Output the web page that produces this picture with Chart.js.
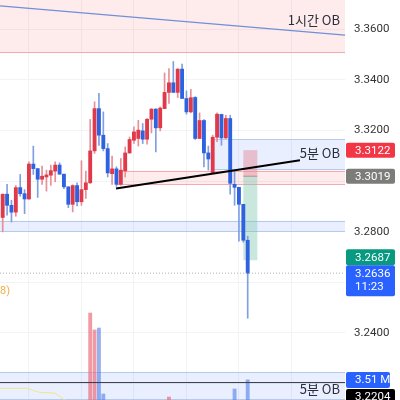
<!DOCTYPE html>
<html>
<head>
<meta charset="utf-8">
<script src="https://cdn.jsdelivr.net/npm/chart.js@4"></script>
<style>
  html, body { margin: 0; padding: 0; background: #fff; }
  canvas { display: block; filter: blur(0.3px); }
</style>
</head>
<body>
<canvas id="chart" width="400" height="400"></canvas>
<script>
// ===== candles =====
const opens = [3.2856,3.2948,3.2904,3.2877,3.2974,3.2950,3.2929,3.3067,3.3049,3.3007,3.3016,3.3023,3.3039,3.3063,3.3027,3.2977,3.2908,3.2982,3.2918,3.2966,3.2993,3.3119,3.3286,3.3181,3.3128,3.3029,3.3048,3.2987,3.3040,3.3111,3.3161,3.3168,3.3198,3.3165,3.3244,3.3284,3.3210,3.3286,3.3350,3.3388,3.3350,3.3442,3.3326,3.3273,3.3330,3.3168,3.3239,3.3111,3.3032,3.3173,3.3263,3.3170,3.3247,3.2987,3.2975,3.2908,3.2766];
const closes = [3.2948,3.2904,3.2877,3.2974,3.2950,3.2929,3.3067,3.3049,3.3007,3.3019,3.3024,3.3041,3.3063,3.3027,3.2977,3.2908,3.2982,3.2918,3.2966,3.2993,3.3119,3.3286,3.3181,3.3128,3.3032,3.3048,3.2987,3.3043,3.3111,3.3164,3.3194,3.3201,3.3165,3.3244,3.3284,3.3210,3.3288,3.3350,3.3388,3.3350,3.3442,3.3326,3.3273,3.3329,3.3168,3.3239,3.3111,3.3087,3.3173,3.3264,3.3170,3.3247,3.2991,3.2975,3.2908,3.2766,3.2636];
const highs = [3.2948,3.2987,3.2924,3.2982,3.3026,3.2966,3.3076,3.3138,3.3049,3.3059,3.3043,3.3063,3.3076,3.3072,3.3027,3.2977,3.2985,3.2993,3.3080,3.3039,3.3243,3.3313,3.3346,3.3273,3.3148,3.3098,3.3056,3.3089,3.3135,3.3174,3.3214,3.3240,3.3227,3.3247,3.3286,3.3286,3.3293,3.3427,3.3444,3.3472,3.3444,3.3462,3.3356,3.3362,3.3333,3.3269,3.3243,3.3138,3.3181,3.3269,3.3264,3.3260,3.3260,3.3040,3.2975,3.2908,3.2782];
const lows = [3.2799,3.2865,3.2838,3.2861,3.2940,3.2871,3.2927,3.3026,3.2935,3.2987,3.2960,3.2983,3.2997,3.3027,3.2970,3.2895,3.2878,3.2902,3.2904,3.2931,3.2990,3.3109,3.3141,3.3119,3.3016,3.2987,3.2979,3.2983,3.3016,3.3109,3.3148,3.3138,3.3148,3.3146,3.3190,3.3115,3.3198,3.3286,3.3306,3.3350,3.3330,3.3326,3.3264,3.3269,3.3164,3.3168,3.3056,3.3043,3.3029,3.3155,3.3141,3.3168,3.2948,3.2904,3.2762,3.2758,3.2458];

// ===== volume (millions), only the bars that reach into view =====
const volumeIndex = [20, 21, 22, 23, 38, 53, 56];
const volumeValues = [9.08, 7.67, 7.83, 2.33, 2.08, 2.75, 3.51];
const volumeUp = [true, true, false, false, true, false, false];

// ===== axis =====
const priceGrid = [3.36, 3.34, 3.32, 3.30, 3.28, 3.26, 3.24, 3.22];
const priceLabels = [3.36, 3.34, 3.32, 3.28, 3.24];

// ===== drawn lines =====
const fallLineX = [-0.62, 78.24];
const fallLineY = [3.3692, 3.3576];
const trendX = [25.9, 67.95];
const trendY = [3.2970, 3.3082];
const lastPriceX = [-0.62, 78.24];
const lastPriceY = [3.2636, 3.2636];
const supportX = [-0.62, 78.24];
const supportY = [3.2204, 3.2204];
const maX = [-0.62, 5.5, 8.5, 12, 14.2];
const maY = [3.2181, 3.2181, 3.2165, 3.2162, 3.2135];

// ===== zones =====
const zoneNames = ["1h", "5mBlue", "5mRed", "lowBlue", "bottomBlue"];
const zoneStart = [-0.62, 48, 26, -0.62, -0.62];
const zoneTop = [3.3715, 3.3165, 3.3041, 3.2843, 3.2246];
const zoneBottom = [3.3505, 3.3043, 3.2985, 3.2799, 3.2135];

// ===== position tool =====
const positionStart = 55;
const positionEnd = 58.2;
const stopPrice = 3.3122;
const entryPrice = 3.3019;
const targetPrice = 3.2687;

const RED = "#e0394a";
const BLUE = "#2f62e0";
const FONT = "Roboto, 'Noto Sans', sans-serif";
const KR_FONT = "'Noto Sans CJK KR', sans-serif";

function toPoints(xs, ys) {
  return xs.map((x, i) => ({ x, y: ys[i] }));
}

const candleIndex = opens.map((_, i) => i);
const candleColors = opens.map((o, i) => (closes[i] >= o ? RED : BLUE));
const wickColors = opens.map((o, i) => (closes[i] >= o ? "#e98e97" : "#7f9fe3"));

// zones and the position box go under the candles
const zonePlugin = {
  id: "zones",
  beforeDatasetsDraw(chart) {
    const { ctx, scales, chartArea } = chart;
    const x = scales.x;
    const y = scales.y;
    ctx.save();
    zoneNames.forEach((name, i) => {
      const red = name === "1h" || name === "5mRed";
      const left = x.getPixelForValue(zoneStart[i]);
      const top = y.getPixelForValue(zoneTop[i]);
      const bottom = y.getPixelForValue(zoneBottom[i]);
      ctx.fillStyle = red ? "rgba(242,54,69,0.1)" : "rgba(41,98,255,0.1)";
      ctx.fillRect(left, top, chartArea.right - left, bottom - top);
      ctx.fillStyle = red ? "#f5aab1" : "#b4cbee";
      ctx.fillRect(left, Math.round(bottom) - 1, chartArea.right - left, 1);
      if (name !== "1h") ctx.fillRect(left, Math.round(top), chartArea.right - left, 1);
    });
    const pl = x.getPixelForValue(positionStart);
    const pr = x.getPixelForValue(positionEnd);
    const stop = y.getPixelForValue(stopPrice);
    const entry = y.getPixelForValue(entryPrice);
    const target = y.getPixelForValue(targetPrice);
    ctx.fillStyle = "rgba(229,130,145,0.45)";
    ctx.fillRect(pl, stop, pr - pl, entry - stop);
    ctx.fillStyle = "rgba(120,195,170,0.4)";
    ctx.fillRect(pl, entry, pr - pl, target - entry);
    ctx.fillStyle = "#9a9a94";
    ctx.fillRect(pl, entry - 0.5, pr - pl, 1);
    ctx.restore();
  }
};

function tag(ctx, left, top, width, height, color, lines) {
  ctx.fillStyle = color;
  ctx.beginPath();
  ctx.roundRect(left, top, width, height, 2);
  ctx.fill();
  ctx.fillStyle = "#fff";
  ctx.font = "11.5px " + FONT;
  ctx.textAlign = "left";
  ctx.textBaseline = "middle";
  lines.forEach((text, i) => ctx.fillText(text, left + 9, top + 8.5 + i * 13.5));
}

// text notes and the price tags go on top of everything
const labelPlugin = {
  id: "labels",
  afterDraw(chart) {
    const { ctx, scales } = chart;
    const y = scales.y;
    ctx.save();
    ctx.fillStyle = "#2a2e39";
    ctx.font = "13px " + KR_FONT;
    ctx.textAlign = "right";
    ctx.textBaseline = "middle";
    ctx.fillText("1시간 OB", 340, 20);
    ctx.fillText("5분 OB", 340, 153);
    ctx.fillText("5분 OB", 340, 389);
    ctx.fillStyle = "#eeb04a";
    ctx.font = "11px " + FONT;
    ctx.textAlign = "left";
    ctx.fillText("8)", 0, 291);

    const stopTop = y.getPixelForValue(stopPrice) - 7.5;
    const entryTop = y.getPixelForValue(entryPrice) - 7.5;
    const lastTop = y.getPixelForValue(lastPriceY[0]) - 8;
    tag(ctx, 346, stopTop, 49, 15, "#f23645", [stopPrice.toFixed(4)]);
    tag(ctx, 346, entryTop, 49, 15, "#7c7c78", [entryPrice.toFixed(4)]);
    tag(ctx, 346, lastTop - 16, 49, 16, "#089981", [targetPrice.toFixed(4)]);
    tag(ctx, 346, lastTop, 49, 31, "#2962ff", [lastPriceY[0].toFixed(4), "11:23"]);
    tag(ctx, 346, 372, 44, 16, "#2962ff", [volumeValues[6].toFixed(2) + " M"]);
    tag(ctx, 346, 389, 49, 16, "#000", [supportY[0].toFixed(4)]);
    ctx.restore();
  }
};

function noPadding(scale) {
  scale.paddingTop = 0;
  scale.paddingBottom = 0;
  scale.paddingLeft = 0;
  scale.paddingRight = 0;
}

new Chart(document.getElementById("chart"), {
  data: {
    datasets: [
      {
        type: "line",
        order: 0,
        data: toPoints(fallLineX, fallLineY),
        borderColor: "#6f8fd8",
        borderWidth: 1.2,
        pointRadius: 0
      },
      {
        type: "line",
        order: 0,
        data: toPoints(trendX, trendY),
        borderColor: "#000",
        borderWidth: 2,
        pointRadius: 0
      },
      {
        type: "line",
        order: 0,
        data: toPoints(lastPriceX, lastPriceY),
        borderColor: "#a9adb5",
        borderWidth: 1,
        borderDash: [1, 2],
        pointRadius: 0
      },
      {
        type: "line",
        order: 0,
        data: toPoints(supportX, supportY),
        borderColor: "#3a3d45",
        borderWidth: 1,
        pointRadius: 0
      },
      {
        type: "line",
        order: 0,
        data: toPoints(maX, maY),
        borderColor: "#efe58c",
        borderWidth: 1,
        pointRadius: 0
      },
      {
        type: "bar",
        order: 1,
        grouped: false,
        data: toPoints(candleIndex, opens.map((o, i) => [o, closes[i]])),
        backgroundColor: candleColors,
        barThickness: 3.2,
        borderSkipped: false
      },
      {
        type: "bar",
        order: 2,
        grouped: false,
        data: toPoints(candleIndex, lows.map((l, i) => [l, highs[i]])),
        backgroundColor: wickColors,
        barThickness: 1,
        borderSkipped: false
      },
      {
        type: "bar",
        order: 3,
        grouped: false,
        yAxisID: "vol",
        data: toPoints(volumeIndex, volumeValues),
        backgroundColor: volumeUp.map((up) => (up ? "rgba(235,110,125,0.7)" : "rgba(80,125,230,0.6)")),
        barThickness: 3.2
      }
    ]
  },
  options: {
    responsive: false,
    animation: false,
    devicePixelRatio: 1,
    layout: { padding: 0 },
    plugins: { legend: { display: false }, tooltip: { enabled: false } },
    scales: {
      x: {
        type: "linear",
        offset: false,
        min: -0.617,
        max: 78.24,
        afterBuildTicks: (scale) => {
          scale.ticks = scale.ticks.filter((t) => t.value % 12 === 0);
        },
        afterFit: (scale) => {
          scale.height = 0;
          noPadding(scale);
        },
        ticks: { display: false, stepSize: 12 },
        grid: { color: "#f2f3f5", drawTicks: false },
        border: { display: false }
      },
      y: {
        position: "right",
        min: 3.2135,
        max: 3.3715,
        afterBuildTicks: (scale) => {
          scale.ticks = priceGrid.map((value) => ({ value }));
        },
        afterFit: (scale) => {
          scale.width = 55;
          noPadding(scale);
        },
        ticks: {
          autoSkip: false,
          padding: 9,
          crossAlign: "near",
          color: "#333",
          font: { family: FONT, size: 11.5 },
          callback: (value) => (priceLabels.includes(value) ? value.toFixed(4) : "")
        },
        grid: { color: "#f2f3f5", drawTicks: false },
        border: { display: false }
      },
      vol: {
        display: false,
        min: 1.83,
        max: 35.17
      }
    }
  },
  plugins: [zonePlugin, labelPlugin]
});
</script>
</body>
</html>
